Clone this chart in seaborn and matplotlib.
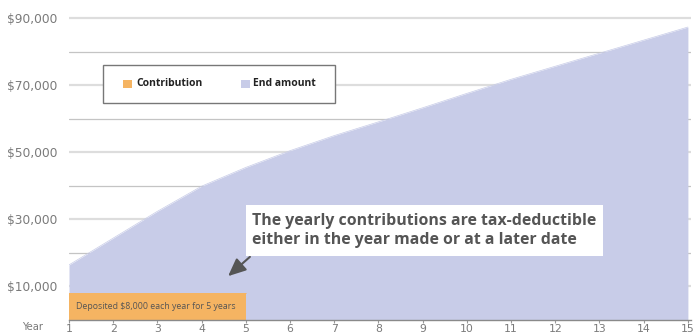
import matplotlib
matplotlib.use("Agg")
import matplotlib.pyplot as plt
import seaborn as sns
import pandas as pd
from matplotlib.patches import Rectangle

# ---- data ----
years = list(range(1, 16))
end_amount = [16300, 24300, 32300, 39800, 45400, 50400, 54900, 59000,
              63200, 67500, 71700, 75600, 79500, 83400, 87300]
contrib_years = [1, 2, 3, 4, 5]
contribution = [8000, 8000, 8000, 8000, 8000]
ytick_values = [10000, 20000, 30000, 40000, 50000, 60000, 70000, 80000, 90000]
ytick_labels = ["$10,000", "", "$30,000", "", "$50,000", "", "$70,000", "", "$90,000"]
legend_labels = ["Contribution", "End amount"]
note_text = "The yearly contributions are tax-deductible\neither in the year made or at a later date"
deposit_text = "Deposited $8,000 each year for 5 years"

PURPLE = "#C8CCE8"
ORANGE = "#F5B462"
GRAY_TXT = "#7a7a7a"
DARK = "#555555"

sns.set_theme(style="white")
plt.rcParams["font.family"] = ["Open Sans", "DejaVu Sans"]

W, H = 694, 334
fig = plt.figure(figsize=(6.94, 3.34), dpi=100)
ax = fig.add_axes([69 / W, 1 - 319.5 / H, 622 / W, (319.5 - 14.65) / H])

def fx(px):
    return px / W

def fy(py):
    return 1 - py / H

df_end = pd.DataFrame({"year": years, "value": end_amount})
df_con = pd.DataFrame({"year": contrib_years, "value": contribution})

# gridlines (drawn under fills)
for v, lab in zip(ytick_values, ytick_labels):
    if lab:
        ax.axhline(v, color="#dddddd", lw=1.6, zorder=0)
    else:
        ax.axhline(v, color="#c4c4c4", lw=0.9, zorder=0)

sns.lineplot(data=df_end, x="year", y="value", ax=ax, color=PURPLE, lw=0.5, zorder=2)
ax.fill_between(df_end["year"], 0, df_end["value"], color=PURPLE, lw=0, zorder=2)
sns.lineplot(data=df_con, x="year", y="value", ax=ax, color=ORANGE, lw=0.5, zorder=3)
ax.fill_between(df_con["year"], 0, df_con["value"], color=ORANGE, lw=0, zorder=3)

ax.set_xlim(1, 15.07)
ax.set_ylim(0, 91000)
ax.set_xlabel("")
ax.set_ylabel("")

ax.set_yticks(ytick_values)
ax.set_yticklabels(ytick_labels, fontfamily="DejaVu Sans")
ax.set_xticks(years)
ax.set_xticklabels([str(y) for y in years], fontfamily="DejaVu Sans")
ax.tick_params(axis="y", length=0, pad=8.5, labelsize=8.8, labelcolor=GRAY_TXT)
ax.tick_params(axis="x", length=2.5, width=0.8, color="#999999", pad=0.5,
               labelsize=7.8, labelcolor=GRAY_TXT, bottom=True)

for s in ["top", "right", "left"]:
    ax.spines[s].set_visible(False)
ax.spines["bottom"].set_color("#8a8a8a")
ax.spines["bottom"].set_linewidth(1.0)
ax.spines["bottom"].set_zorder(5)

fig.text(fx(33), fy(327.5), "Year", ha="center", va="center",
         fontsize=7.2, color=GRAY_TXT, family="DejaVu Sans")

# legend (boxed, two entries)
fig.patches.append(Rectangle((fx(103), fy(103)), (335 - 103) / W, 38 / H,
                             transform=fig.transFigure, facecolor="white",
                             edgecolor="#777777", lw=1.0, zorder=4))
for (sx, tx), lab, col in zip([(123, 136), (241, 253)], legend_labels, [ORANGE, PURPLE]):
    fig.patches.append(Rectangle((fx(sx), fy(88)), 8.5 / W, 8.5 / H,
                                 transform=fig.transFigure, facecolor=col,
                                 edgecolor="none", zorder=5))
    fig.text(fx(tx), fy(83.5), lab, ha="left", va="center", fontsize=7.5,
             fontweight="bold", color="#222222", zorder=6)

# deposit text inside contribution area
ax.text(1.16, 4000, deposit_text, ha="left", va="center", fontsize=6.3,
        color=DARK, zorder=6)

# annotation note box
fig.patches.append(Rectangle((fx(246), fy(256)), (603 - 246) / W, 51 / H,
                             transform=fig.transFigure, facecolor="white",
                             edgecolor="none", zorder=4))
fig.text(fx(252), fy(230.5), note_text, ha="left", va="center",
         fontsize=11.4, fontweight="bold", color=DARK, linespacing=1.18, zorder=6)
ax.annotate("", xy=(fx(226), fy(278)), xytext=(fx(252), fy(255)),
            xycoords="figure fraction", textcoords="figure fraction",
            arrowprops=dict(arrowstyle="-|>,head_length=0.9,head_width=0.4",
                            color=DARK, lw=1.5), zorder=6)

fig.savefig("out.png", dpi=100)
